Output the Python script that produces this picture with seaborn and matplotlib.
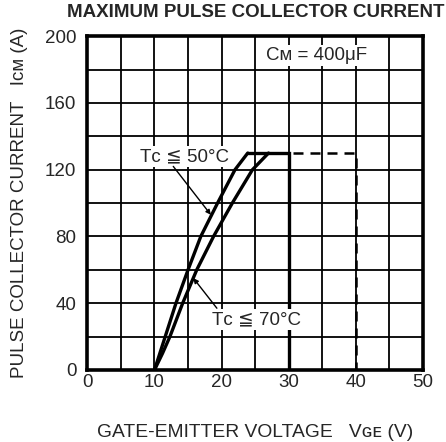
import matplotlib
matplotlib.use("Agg")
import matplotlib.pyplot as plt
import seaborn as sns
import pandas as pd

# curve data (V_GE in V, I_CM in A)
i_cm = [0, 10, 20, 40, 60, 80, 100, 120, 130]
vge_50 = [10, 10.8, 11.6, 13.2, 15.0, 16.9, 19.4, 22.0, 23.9]
vge_70 = [10, 11.2, 12.3, 14.2, 16.3, 18.8, 21.6, 24.6, 27.0]
limit_x = [23.9, 30, 30]
limit_y = [130, 130, 0]
ext_x = [30.6, 40, 40]
ext_y = [130, 130, 0]

x_ticks = [0, 10, 20, 30, 40, 50]
y_ticks = [0, 40, 80, 120, 160, 200]
grid_x = list(range(5, 50, 5))
grid_y = list(range(20, 200, 20))

sns.set_style("white")
fonts = ["Liberation Sans", "DejaVu Sans"]
plt.rcParams["font.family"] = fonts

fig = plt.figure(figsize=(4.46, 4.42), dpi=100)
ax = fig.add_axes([0.196, 0.163, 0.752, 0.755])

# grid every 5 V / 20 A
for gx in grid_x:
    ax.axvline(gx, color="black", lw=1.3, zorder=1)
for gy in grid_y:
    ax.axhline(gy, color="black", lw=1.3, zorder=1)

df50 = pd.DataFrame({"V": vge_50, "I": i_cm})
df70 = pd.DataFrame({"V": vge_70, "I": i_cm})
sns.lineplot(data=df50, x="V", y="I", sort=False, estimator=None, color="black", lw=2.4, ax=ax, zorder=4)
sns.lineplot(data=df70, x="V", y="I", sort=False, estimator=None, color="black", lw=2.4, ax=ax, zorder=4)
ax.plot(limit_x, limit_y, color="black", lw=2.4, zorder=4, solid_joinstyle="miter")
ax.plot(ext_x, ext_y, color="black", lw=1.8, ls=(0, (4, 2.8)), zorder=4)

ax.set_xlim(0, 50)
ax.set_ylim(0, 200)
ax.set_xticks(x_ticks)
ax.set_yticks(y_ticks)
ax.tick_params(which="both", length=0, labelsize=13.5)
ax.tick_params(axis="x", pad=3)
ax.tick_params(axis="y", pad=8)
for s in ax.spines.values():
    s.set_linewidth(2.6)
    s.set_color("black")
    s.set_zorder(5)

box = dict(facecolor="white", edgecolor="none", pad=1.5)
ax.text(14.4, 127.7, "T\u1d04 \u2266 50\u00b0C", ha="center", va="center", fontsize=13.5, bbox=box, zorder=6)
ax.text(25.2, 30, "T\u1d04 \u2266 70\u00b0C", ha="center", va="center", fontsize=13.5, bbox=box, zorder=6)
ax.text(34.1, 188.6, "C\u1d0d = 400\u03bcF", ha="center", va="center", fontsize=13.5, bbox=box, zorder=6)

arrow = dict(arrowstyle="-|>", color="black", lw=1.0, mutation_scale=7, shrinkA=0, shrinkB=0)
ax.annotate("", xy=(18.4, 93), xytext=(12.8, 122), arrowprops=arrow, zorder=6)
ax.annotate("", xy=(15.8, 55), xytext=(19.3, 37), arrowprops=arrow, zorder=6)

ax.set_xlabel("GATE-EMITTER VOLTAGE   V\u0262\u1d07 (V)", fontsize=13.9, labelpad=24)
ax.set_ylabel("PULSE COLLECTOR CURRENT   I\u1d04\u1d0d (A)", fontsize=13.5, labelpad=12)
fig.text(0.573, 0.972, "MAXIMUM PULSE COLLECTOR CURRENT", ha="center", va="center",
         fontsize=13.5, fontweight="bold")

fig.savefig("out.png", dpi=100)
